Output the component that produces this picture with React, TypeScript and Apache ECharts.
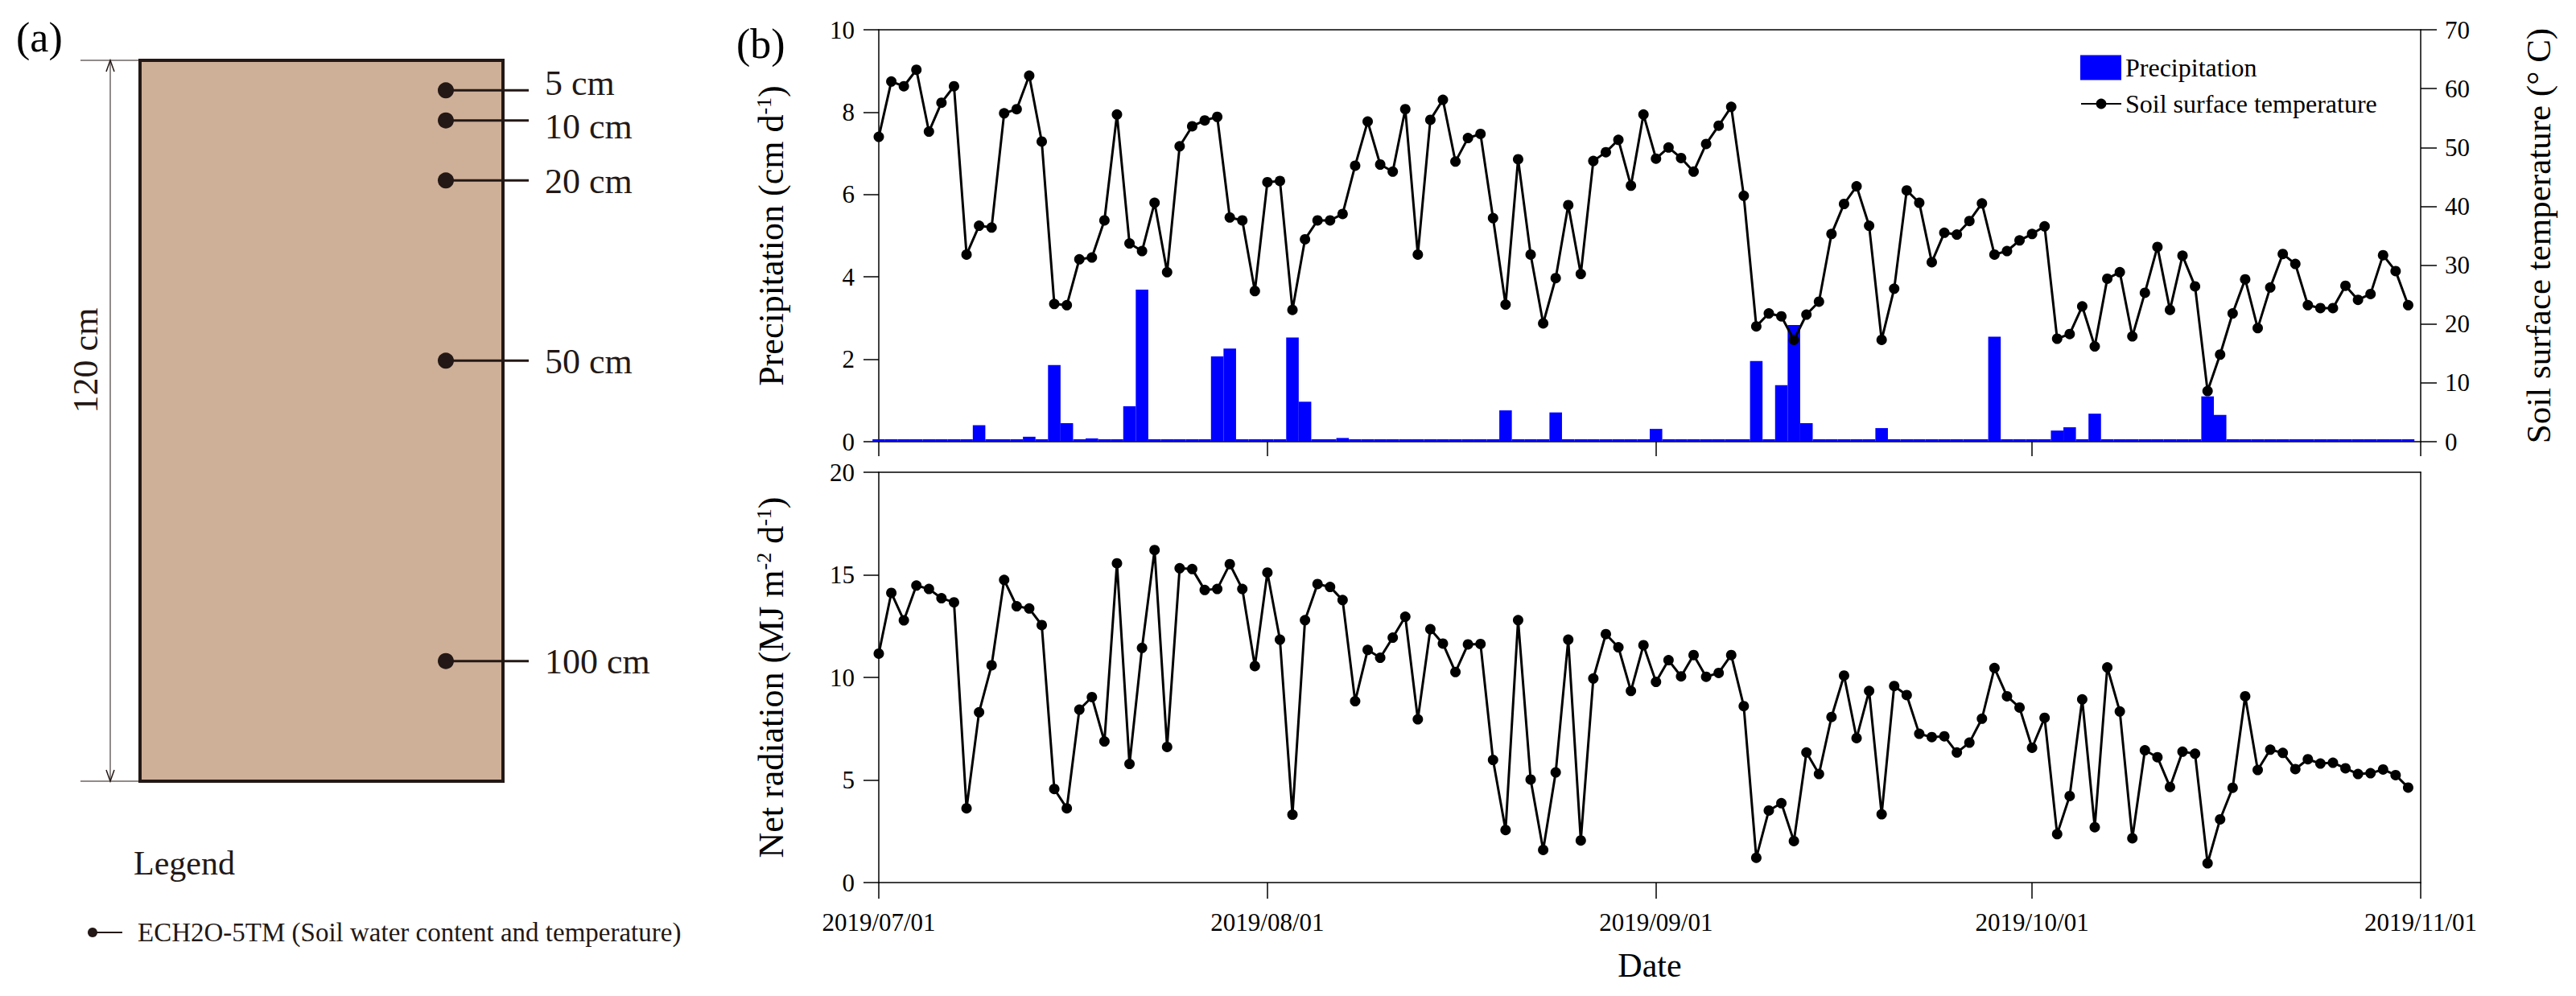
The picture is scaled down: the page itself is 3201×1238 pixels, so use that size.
import React, { useEffect, useRef } from 'react';
import * as echarts from 'echarts';

const FONT = '"Liberation Serif", "Times New Roman", serif';
const INK = '#231815';

// ---- x axis tick labels (dates) ----
const monthLabels = ['2019/07/01', '2019/08/01', '2019/09/01', '2019/10/01', '2019/11/01'];

// ---- daily series, 2019/07/01 .. 2019/10/31 ----
const precipitation = [
  0, 0, 0, 0, 0, 0, 0, 0.04, 0.40, 0.02,
  0.04, 0.04, 0.12, 0, 1.86, 0.45, 0, 0.08, 0, 0,
  0.86, 3.69, 0, 0, 0, 0, 0, 2.07, 2.26, 0,
  0.05, 0, 0, 2.53, 0.97, 0, 0, 0.09, 0, 0,
  0, 0, 0, 0, 0, 0, 0, 0, 0, 0,
  0.76, 0, 0, 0, 0.71, 0, 0.04, 0, 0, 0,
  0, 0, 0.31, 0, 0, 0, 0, 0, 0, 0.04,
  1.96, 0.05, 1.37, 2.83, 0.45, 0, 0, 0, 0, 0,
  0.33, 0, 0, 0, 0, 0, 0, 0, 0, 2.55,
  0, 0, 0, 0, 0.27, 0.35, 0, 0.68, 0, 0,
  0.04, 0, 0, 0, 0, 0, 1.10, 0.65, 0.04, 0,
  0, 0, 0, 0, 0, 0, 0, 0, 0, 0,
  0, 0, 0,
];

const soilSurfaceTemperature = [
  51.8, 61.2, 60.4, 63.2, 52.7, 57.6, 60.4, 31.8, 36.7, 36.4,
  55.8, 56.5, 62.2, 51.0, 23.4, 23.2, 31.0, 31.3, 37.6, 55.6,
  33.7, 32.4, 40.6, 28.8, 50.2, 53.6, 54.6, 55.2, 38.1, 37.6,
  25.6, 44.1, 44.3, 22.4, 34.4, 37.6, 37.6, 38.7, 46.9, 54.4,
  47.1, 45.9, 56.5, 31.8, 54.7, 58.1, 47.6, 51.6, 52.3, 38.0,
  23.3, 48.0, 31.8, 20.1, 27.8, 40.2, 28.5, 47.7, 49.2, 51.3,
  43.5, 55.6, 48.1, 50.0, 48.2, 45.9, 50.6, 53.7, 56.9, 41.8,
  19.6, 21.8, 21.3, 17.3, 21.6, 23.8, 35.3, 40.4, 43.4, 36.7,
  17.3, 26.0, 42.7, 40.6, 30.5, 35.5, 35.2, 37.5, 40.5, 31.8,
  32.4, 34.2, 35.3, 36.6, 17.5, 18.3, 23.0, 16.2, 27.7, 28.8,
  17.9, 25.3, 33.1, 22.4, 31.6, 26.4, 8.6, 14.8, 21.8, 27.6,
  19.3, 26.2, 31.9, 30.2, 23.2, 22.7, 22.7, 26.5, 24.1, 25.1,
  31.7, 29.0, 23.2,
];

const netRadiation = [
  11.16, 14.12, 12.78, 14.48, 14.31, 13.86, 13.66, 3.62, 8.30, 10.59,
  14.75, 13.47, 13.36, 12.55, 4.56, 3.62, 8.43, 9.04, 6.88, 15.56,
  5.78, 11.44, 16.21, 6.61, 15.32, 15.28, 14.26, 14.31, 15.52, 14.31,
  10.55, 15.11, 11.84, 3.31, 12.79, 14.55, 14.41, 13.77, 8.84, 11.34,
  10.96, 11.94, 12.96, 7.96, 12.35, 11.65, 10.26, 11.61, 11.63, 5.98,
  2.56, 12.79, 5.02, 1.59, 5.37, 11.84, 2.05, 9.95, 12.11, 11.47,
  9.34, 11.57, 9.78, 10.84, 10.05, 11.09, 10.03, 10.22, 11.09, 8.60,
  1.21, 3.51, 3.87, 2.02, 6.34, 5.29, 8.07, 10.09, 7.04, 9.34,
  3.33, 9.58, 9.14, 7.25, 7.09, 7.13, 6.34, 6.82, 7.99, 10.46,
  9.08, 8.53, 6.57, 8.03, 2.36, 4.22, 8.93, 2.70, 10.49, 8.34,
  2.16, 6.45, 6.11, 4.66, 6.38, 6.28, 0.94, 3.08, 4.62, 9.08,
  5.49, 6.48, 6.32, 5.53, 6.01, 5.80, 5.84, 5.57, 5.29, 5.33,
  5.51, 5.24, 4.63,
];

// ---- panel (a) schematic ----
const columnDepthCm = 120;
const sensorDepths = [5, 10, 20, 50, 100];
const sensorLabels = ['5 cm', '10 cm', '20 cm', '50 cm', '100 cm'];

const toDay = (s: string) => {
  const [y, m, d] = s.split('/').map(Number);
  return Math.round((Date.UTC(y, m - 1, d) - Date.UTC(2019, 6, 1)) / 86400000);
};
const monthTickDays = monthLabels.map(toDay);
const spanDays = monthTickDays[monthTickDays.length - 1];

const W = 3201;
const H = 1238;
const GL = 1092;
const GR = 193;
const plotW = W - GL - GR;
const barWidth = plotW / spanDays;

const axisLine = { show: true, onZero: false, lineStyle: { color: '#000', width: 1.5 } };
const tickStyle = { color: '#000', width: 1.5 };
const labelStyle = { fontSize: 31, fontFamily: FONT, color: '#000', margin: 30 };

const App: React.FC = () => {
  const ref = useRef<HTMLDivElement>(null);

  useEffect(() => {
    if (!ref.current) return;
    const chart = echarts.init(ref.current, null, { renderer: 'svg' });

    const boxX1 = 174, boxY1 = 75, boxX2 = 625, boxY2 = 971;
    const depthY = (d: number) => boxY1 + (d / columnDepthCm) * (boxY2 - boxY1);
    const minLabelGap = 54;

    const graphic: any[] = [
      { type: 'text', x: 20, y: 20, style: { text: '(a)', font: `52px ${FONT}`, fill: '#000', textAlign: 'left', textVerticalAlign: 'top', align: 'left', verticalAlign: 'top' } },
      { type: 'text', x: 915, y: 28, style: { text: '(b)', font: `52px ${FONT}`, fill: '#000', textAlign: 'left', textVerticalAlign: 'top', align: 'left', verticalAlign: 'top' } },
      { type: 'rect', shape: { x: boxX1, y: boxY1, width: boxX2 - boxX1, height: boxY2 - boxY1 }, style: { fill: '#CEAF98', stroke: INK, lineWidth: 4 } },
      { type: 'line', shape: { x1: 100, y1: boxY1, x2: boxX1, y2: boxY1 }, style: { stroke: INK, lineWidth: 1 } },
      { type: 'line', shape: { x1: 100, y1: boxY2, x2: boxX1, y2: boxY2 }, style: { stroke: INK, lineWidth: 1 } },
      { type: 'line', shape: { x1: 137, y1: boxY1, x2: 137, y2: boxY2 }, style: { stroke: INK, lineWidth: 1 } },
      { type: 'polyline', shape: { points: [[132, boxY1 + 14], [137, boxY1], [142, boxY1 + 14]] }, style: { stroke: INK, lineWidth: 1.5, fill: null } },
      { type: 'polyline', shape: { points: [[132, boxY2 - 14], [137, boxY2], [142, boxY2 - 14]] }, style: { stroke: INK, lineWidth: 1.5, fill: null } },
      { type: 'text', x: 106, y: (boxY1 + boxY2) / 2 - 75, rotation: Math.PI / 2, style: { text: '120 cm', font: `44px ${FONT}`, fill: INK, textAlign: 'center', textVerticalAlign: 'middle', align: 'center', verticalAlign: 'middle' } },
      { type: 'text', x: 166, y: 1073, style: { text: 'Legend', font: `42px ${FONT}`, fill: INK, textAlign: 'left', textVerticalAlign: 'middle', align: 'left', verticalAlign: 'middle' } },
      { type: 'line', shape: { x1: 115, y1: 1159, x2: 152, y2: 1159 }, style: { stroke: INK, lineWidth: 2 } },
      { type: 'circle', shape: { cx: 115, cy: 1159, r: 6 }, style: { fill: INK } },
      { type: 'text', x: 171, y: 1159, style: { text: 'ECH2O-5TM (Soil water content and temperature)', font: `33px ${FONT}`, fill: INK, textAlign: 'left', textVerticalAlign: 'middle', align: 'left', verticalAlign: 'middle' } },
    ];

    // label positions: follow the sensor, but spread apart the two closest ones
    const ys = sensorDepths.map(depthY);
    const labelYs = ys.slice();
    if (labelYs[1] - labelYs[0] < minLabelGap) {
      const mid = (labelYs[0] + labelYs[1]) / 2 - 2;
      labelYs[0] = mid - minLabelGap / 2;
      labelYs[1] = mid + minLabelGap / 2;
    }
    sensorDepths.forEach((d, i) => {
      const y = ys[i];
      graphic.push({ type: 'line', shape: { x1: 554, y1: y, x2: 657, y2: y }, style: { stroke: INK, lineWidth: 3 } });
      graphic.push({ type: 'circle', shape: { cx: 554, cy: y, r: 10 }, style: { fill: INK } });
      graphic.push({ type: 'text', x: 677, y: labelYs[i] + 1, style: { text: sensorLabels[i], font: `44px ${FONT}`, fill: INK, textAlign: 'left', textVerticalAlign: 'middle', align: 'left', verticalAlign: 'middle' } });
    });

    const dayFmt = (v: number) => {
      const i = monthTickDays.indexOf(Math.round(v));
      return i >= 0 ? monthLabels[i] : '';
    };

    const richName = (size: number) => ({
      a: { fontSize: size, fontFamily: FONT, color: '#000' },
      s: { fontSize: Math.round(size * 0.6), fontFamily: FONT, color: '#000', verticalAlign: 'top' },
    });

    const option: any = {
      animation: false,
      backgroundColor: '#fff',
      graphic,
      grid: [
        { left: GL, right: GR, top: 37, height: 512, outerBoundsMode: 'none' },
        { left: GL, right: GR, top: 587, height: 510, outerBoundsMode: 'none' },
      ],
      legend: [
        {
          data: ['Precipitation'], left: 2585, top: 68, orient: 'vertical', padding: 0,
          itemWidth: 51, itemHeight: 31, icon: 'rect', selectedMode: false,
          textStyle: { fontSize: 32, fontFamily: FONT, color: '#000' },
        },
        {
          data: ['Soil surface temperature'], left: 2585, top: 113, orient: 'vertical', padding: 0,
          itemWidth: 50, itemHeight: 16, selectedMode: false,
          textStyle: { fontSize: 32, fontFamily: FONT, color: '#000' },
        },
      ],
      xAxis: [
        {
          gridIndex: 0, type: 'value', min: 0, max: spanDays, position: 'bottom',
          axisLine, splitLine: { show: false },
          axisTick: { show: true, customValues: monthTickDays, length: 18, lineStyle: tickStyle },
          axisLabel: { show: false },
        },
        {
          gridIndex: 0, type: 'value', min: 0, max: spanDays, position: 'top',
          axisLine, splitLine: { show: false }, axisTick: { show: false }, axisLabel: { show: false },
        },
        {
          gridIndex: 1, type: 'value', min: 0, max: spanDays, position: 'bottom',
          axisLine, splitLine: { show: false },
          axisTick: { show: true, customValues: monthTickDays, length: 20, lineStyle: tickStyle },
          axisLabel: { show: true, customValues: monthTickDays, formatter: dayFmt, fontSize: 31, fontFamily: FONT, color: '#000', margin: 34, showMinLabel: true, showMaxLabel: true },
          name: 'Date', nameLocation: 'middle', nameGap: 82,
          nameTextStyle: { fontSize: 42, fontFamily: FONT, color: '#000' },
        },
        {
          gridIndex: 1, type: 'value', min: 0, max: spanDays, position: 'top',
          axisLine, splitLine: { show: false }, axisTick: { show: false }, axisLabel: { show: false },
        },
      ],
      yAxis: [
        {
          gridIndex: 0, type: 'value', min: 0, max: 10, interval: 2, position: 'left',
          axisLine, splitLine: { show: false },
          axisTick: { show: true, length: 19, lineStyle: tickStyle },
          axisLabel: labelStyle,
          name: '{a|Precipitation (cm d}{s|-1}{a|)}', nameLocation: 'middle', nameGap: 112, nameRotate: 90,
          nameTextStyle: { rich: richName(44) },
        },
        {
          gridIndex: 0, type: 'value', min: 0, max: 70, interval: 10, position: 'right',
          axisLine, splitLine: { show: false },
          axisTick: { show: true, length: 20, lineStyle: tickStyle },
          axisLabel: labelStyle,
          name: 'Soil surface temperature (° C)', nameLocation: 'middle', nameGap: 125, nameRotate: 90,
          nameTextStyle: { fontSize: 43, fontFamily: FONT, color: '#000' },
        },
        {
          gridIndex: 1, type: 'value', min: 0, max: 20, interval: 5, position: 'left',
          axisLine, splitLine: { show: false },
          axisTick: { show: true, length: 19, lineStyle: tickStyle },
          axisLabel: labelStyle,
          name: '{a|Net radiation (MJ m}{s|-2}{a| d}{s|-1}{a|)}', nameLocation: 'middle', nameGap: 112, nameRotate: 90,
          nameTextStyle: { rich: richName(44) },
        },
        {
          gridIndex: 1, type: 'value', min: 0, max: 20, interval: 5, position: 'right',
          axisLine, splitLine: { show: false }, axisTick: { show: false }, axisLabel: { show: false },
        },
      ],
      series: [
        {
          type: 'bar', name: 'Precipitation', xAxisIndex: 0, yAxisIndex: 0,
          data: precipitation.map((v, i) => [i, v]),
          barWidth, barMinHeight: 3, clip: true,
          itemStyle: { color: '#0000FF' }, z: 2,
        },
        {
          type: 'line', name: 'Soil surface temperature', xAxisIndex: 0, yAxisIndex: 1,
          data: soilSurfaceTemperature.map((v, i) => [i, v]),
          symbol: 'circle', symbolSize: 13, showAllSymbol: true,
          lineStyle: { color: '#000', width: 3 }, itemStyle: { color: '#000' }, z: 3,
        },
        {
          type: 'line', name: 'Net radiation', xAxisIndex: 2, yAxisIndex: 2,
          data: netRadiation.map((v, i) => [i, v]),
          symbol: 'circle', symbolSize: 13, showAllSymbol: true,
          lineStyle: { color: '#000', width: 3 }, itemStyle: { color: '#000' }, z: 3,
        },
      ],
    };

    chart.setOption(option);
    return () => chart.dispose();
  }, []);

  return <div ref={ref} style={{ position: 'absolute', left: 0, top: 0, width: W, height: H, background: '#fff' }} />;
};

export default App;
